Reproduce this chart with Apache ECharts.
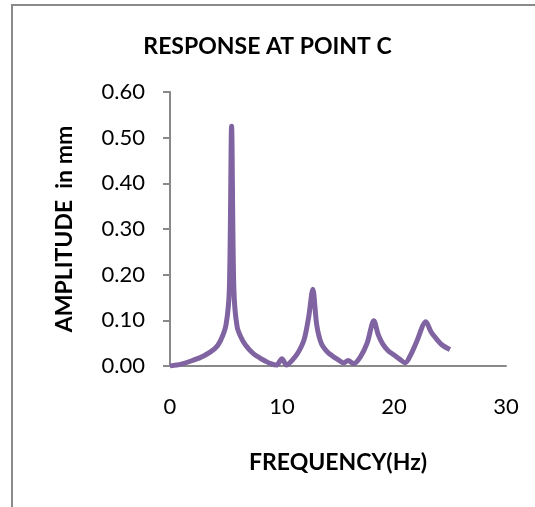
<!DOCTYPE html>
<html>
<head>
<meta charset="utf-8">
<script src="https://cdn.jsdelivr.net/npm/echarts@6/dist/echarts.min.js"></script>
<style>
  html, body { margin: 0; padding: 0; background: #fff; }
  #chart { width: 535px; height: 507px; }
</style>
</head>
<body>
<div id="chart"></div>
<script>
// frequency (Hz) and amplitude (mm)
var freq = [0, 1, 2, 3, 4, 4.5, 5, 5.3, 5.5, 5.7, 6, 6.5, 7, 7.5, 8, 8.5, 9, 9.5, 10, 10.4,
  11, 11.5, 12, 12.4, 12.75, 13.1, 13.5, 14, 14.5, 15, 15.5, 15.9, 16.4, 17, 17.6, 18.2,
  18.6, 19, 19.5, 20, 20.5, 21, 21.5, 22, 22.85, 23.3, 23.7, 24.3, 25]
var amplitude = [0, 0.004, 0.012, 0.022, 0.038, 0.055, 0.09, 0.17, 0.525, 0.17, 0.085, 0.055, 0.038, 0.026, 0.018, 0.011, 0.005, 0.002, 0.016, 0.002,
  0.015, 0.032, 0.06, 0.11, 0.168, 0.09, 0.05, 0.032, 0.022, 0.014, 0.007, 0.012, 0.005, 0.02, 0.05, 0.099,
  0.068, 0.048, 0.033, 0.024, 0.015, 0.007, 0.025, 0.052, 0.097, 0.075, 0.062, 0.046, 0.036]

var points = []
for (var i = 0; i < freq.length; i++) {
  points.push([freq[i], amplitude[i]])
}

var chart = echarts.init(document.getElementById('chart'))
var font = 'Lato, "DejaVu Sans", sans-serif'

chart.setOption({
  animation: false,
  textStyle: { fontFamily: font },
  // outer frame of the chart area
  graphic: [{
    type: 'rect',
    shape: { x: 12, y: 5, width: 600, height: 600 },
    style: { fill: 'none', stroke: '#8a8a8a', lineWidth: 2 }
  }],
  title: {
    text: 'RESPONSE AT POINT C',
    left: 'center',
    top: 30,
    textStyle: { fontFamily: font, fontSize: 23, fontWeight: 'bold', color: '#000' }
  },
  grid: { left: 170, right: 29, top: 92, bottom: 141 },
  xAxis: {
    type: 'value',
    min: 0,
    max: 30,
    interval: 10,
    name: 'FREQUENCY(Hz)',
    nameLocation: 'middle',
    nameGap: 85,
    nameTextStyle: { fontFamily: font, fontSize: 23, fontWeight: 'bold', color: '#000' },
    axisLine: { lineStyle: { color: '#898989', width: 2 } },
    axisTick: { show: false },
    splitLine: { show: false },
    axisLabel: { fontFamily: font, fontSize: 22, color: '#000', margin: 30 }
  },
  yAxis: {
    type: 'value',
    min: 0,
    max: 0.6,
    interval: 0.1,
    name: 'AMPLITUDE  in mm',
    nameLocation: 'middle',
    nameGap: 94,
    nameTextStyle: { fontFamily: font, fontSize: 23, fontWeight: 'bold', color: '#000' },
    axisLine: { show: true, lineStyle: { color: '#898989', width: 2 } },
    axisTick: { show: true, length: 7, lineStyle: { color: '#898989', width: 2 } },
    splitLine: { show: false },
    axisLabel: {
      fontFamily: font, fontSize: 22, color: '#000', margin: 25,
      formatter: function (v) { return v.toFixed(2) }
    }
  },
  series: [{
    type: 'line',
    data: points,
    smooth: 0.3,
    showSymbol: false,
    lineStyle: { color: '#8064a2', width: 5 }
  }]
})
</script>
</body>
</html>
